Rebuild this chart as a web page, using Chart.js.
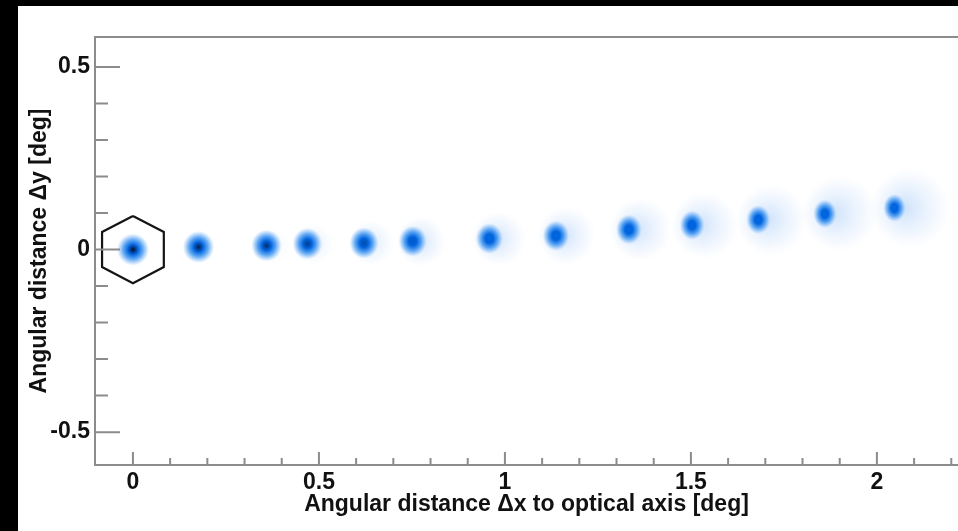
<!DOCTYPE html>
<html>
<head>
<meta charset="utf-8">
<script src="https://cdn.jsdelivr.net/npm/chart.js@4.4.1/dist/chart.umd.min.js"></script>
<style>
  html, body { margin: 0; padding: 0; background: #000; }
  #wrap { position: absolute; left: 18px; top: 6px; width: 940px; height: 525px; background: #fff; }
</style>
</head>
<body>
<div id="wrap"><canvas id="psf" width="940" height="525"></canvas></div>
<script>
// spot centroids [deg]
const spotX = [0, 0.176, 0.359, 0.469, 0.621, 0.752, 0.958, 1.137, 1.333, 1.503, 1.681, 1.860, 2.047];
const spotY = [0, 0.007, 0.011, 0.016, 0.018, 0.023, 0.030, 0.038, 0.055, 0.067, 0.082, 0.098, 0.114];

// hexagonal pixel outline around the optical axis
const hexX = [0, 0.083, 0.083, 0, -0.083, -0.083, 0];
const hexY = [0.092, 0.048, -0.048, -0.092, -0.048, 0.048, 0.092];

// axis ticks
const xTicks = [0, 0.1, 0.2, 0.3, 0.4, 0.5, 0.6, 0.7, 0.8, 0.9, 1, 1.1, 1.2, 1.3, 1.4, 1.5, 1.6, 1.7, 1.8, 1.9, 2, 2.1, 2.2];
const xMajor = [0, 0.5, 1, 1.5, 2];
const yTicks = [-0.5, -0.4, -0.3, -0.2, -0.1, 0, 0.1, 0.2, 0.3, 0.4, 0.5];
const yMajor = [-0.5, 0, 0.5];

const FONT = "'Liberation Sans', Arial, Helvetica, sans-serif";
const AXIS = '#8c8c8c';

// little blurred spot images, core sits in the middle, coma halo drifts right
function makeSpot(i) {
  const t = i / (spotX.length - 1);
  const coreR = 16 - 5 * t;
  const haloR = 14 + 26 * t;
  const haloOff = 3 + 13 * t;
  const haloA = Math.min(1, i / 5);
  const size = Math.ceil(2 * (haloOff + haloR) + 4);
  const c = document.createElement('canvas');
  c.width = c.height = size;
  const g = c.getContext('2d');
  const m = size / 2;

  if (haloA > 0) {
    const hg = g.createRadialGradient(m + haloOff * 0.5, m, 0, m + haloOff, m, haloR);
    hg.addColorStop(0, 'rgba(40,130,235,' + (0.24 * haloA) + ')');
    hg.addColorStop(0.45, 'rgba(70,145,240,' + (0.13 * haloA) + ')');
    hg.addColorStop(0.75, 'rgba(90,155,240,' + (0.06 * haloA) + ')');
    hg.addColorStop(1, 'rgba(90,155,240,0)');
    g.fillStyle = hg;
    g.fillRect(0, 0, size, size);
  }

  const dark = Math.max(0, 1 - i / 6);
  const r = Math.round(0 + 5 * dark), gg = Math.round(105 - 90 * dark), b = Math.round(228 - 188 * dark);
  g.save();
  g.translate(m, m);
  g.scale(1, 1 + 0.25 * t);
  const cg = g.createRadialGradient(0, 0, 0, 0, 0, coreR);
  cg.addColorStop(0, 'rgb(' + r + ',' + gg + ',' + b + ')');
  cg.addColorStop(0.3, 'rgba(0,98,220,1)');
  cg.addColorStop(0.6, 'rgba(25,128,238,0.7)');
  cg.addColorStop(1, 'rgba(60,150,245,0)');
  g.fillStyle = cg;
  g.beginPath();
  g.arc(0, 0, coreR, 0, Math.PI * 2);
  g.fill();
  g.restore();
  return c;
}
const spotImgs = spotX.map((v, i) => makeSpot(i));

// top frame line and inward tick marks
const frame = {
  id: 'frame',
  afterDraw(chart) {
    const { ctx, chartArea: a, scales: { x, y } } = chart;
    ctx.save();
    ctx.strokeStyle = AXIS;
    ctx.lineWidth = 2;
    ctx.beginPath();
    ctx.moveTo(a.left, a.top);
    ctx.lineTo(a.right, a.top);
    x.ticks.forEach(tk => {
      const px = x.getPixelForValue(tk.value);
      const len = xMajor.includes(tk.value) ? 13 : 7;
      ctx.moveTo(px, a.bottom);
      ctx.lineTo(px, a.bottom - len);
    });
    y.ticks.forEach(tk => {
      const py = y.getPixelForValue(tk.value);
      const len = yMajor.includes(tk.value) ? 25 : 13;
      ctx.moveTo(a.left, py);
      ctx.lineTo(a.left + len, py);
    });
    ctx.stroke();
    ctx.restore();
  }
};

const ctx = document.getElementById('psf').getContext('2d');

new Chart(ctx, {
  type: 'scatter',
  data: {
    datasets: [
      {
        label: 'pixel',
        data: hexX.map((v, i) => ({ x: v, y: hexY[i] })),
        showLine: true,
        borderColor: '#151515',
        borderWidth: 2.2,
        pointRadius: 0,
        fill: false,
      },
      {
        label: 'spots',
        data: spotX.map((v, i) => ({ x: v, y: spotY[i] })),
        pointStyle: c => spotImgs[c.dataIndex],
        pointRadius: 8,
        clip: false,
      },
    ],
  },
  options: {
    responsive: false,
    animation: false,
    events: [],
    layout: { autoPadding: false, padding: { top: 31, right: 0, bottom: 0, left: 0 } },
    plugins: { legend: { display: false }, tooltip: { enabled: false } },
    scales: {
      x: {
        type: 'linear',
        min: -0.102,
        max: 2.218,
        afterBuildTicks: s => { s.ticks = xTicks.map(v => ({ value: v })); },
        afterFit: s => { s.height = 66; s.paddingRight = 0; s.paddingLeft = 0; },
        grid: { display: false, drawTicks: false },
        border: { display: true, color: AXIS, width: 2 },
        ticks: {
          padding: 4,
          color: '#111',
          font: { family: FONT, size: 23, weight: 'bold' },
          maxRotation: 0,
          autoSkip: false,
          callback: v => xMajor.includes(v) ? String(v) : '',
        },
        title: {
          display: true,
          text: 'Angular distance \u0394x to optical axis [deg]',
          color: '#111',
          font: { family: FONT, size: 23, weight: 'bold' },
          padding: { top: 0, bottom: 13 },
        },
      },
      y: {
        type: 'linear',
        min: -0.59,
        max: 0.582,
        afterBuildTicks: s => { s.ticks = yTicks.map(v => ({ value: v })); },
        afterFit: s => { s.width = 77; s.paddingTop = 0; s.paddingBottom = 0; },
        grid: { display: false, drawTicks: false },
        border: { display: true, color: AXIS, width: 2 },
        ticks: {
          padding: 5,
          color: '#111',
          font: { family: FONT, size: 23, weight: 'bold' },
          autoSkip: false,
          callback: v => yMajor.includes(v) ? String(v) : '',
        },
        title: {
          display: true,
          text: 'Angular distance \u0394y [deg]',
          color: '#111',
          font: { family: FONT, size: 23, weight: 'bold' },
          padding: { top: 8, bottom: 0 },
        },
      },
    },
  },
  plugins: [frame],
});
</script>
</body>
</html>
